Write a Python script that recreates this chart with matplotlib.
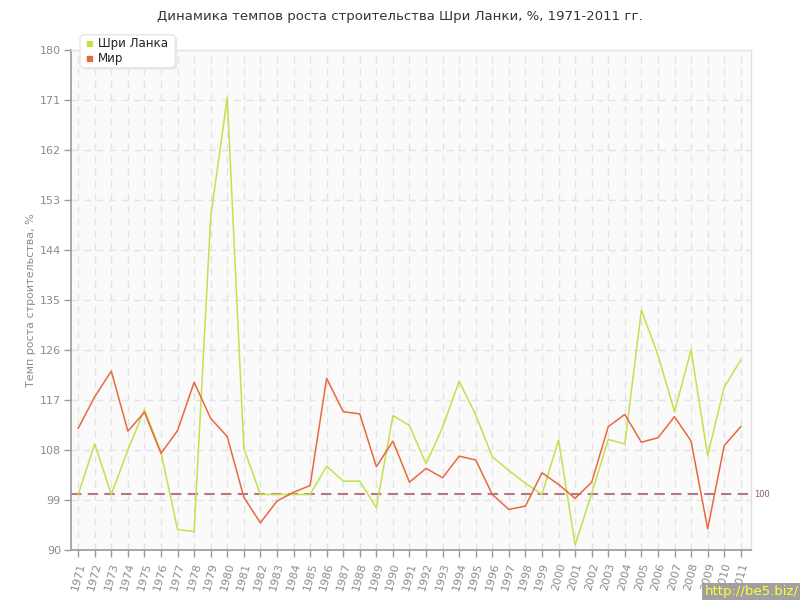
import numpy as np
import matplotlib
matplotlib.use('Agg')
import matplotlib.pyplot as plt
from matplotlib.patches import FancyBboxPatch

# data
years = list(range(1971, 2012))
sri_lanka = [100.0, 109.1, 100.0, 108.0, 115.3, 107.6, 93.7, 93.3, 150.0, 171.4,
             108.3, 100.0, 100.0, 100.0, 100.0, 105.1, 102.4, 102.4, 97.6, 114.2,
             112.4, 105.5, 112.1, 120.4, 114.3, 106.8, 104.3, 102.0, 100.0, 109.8,
             90.9, 100.2, 109.9, 109.1, 133.2, 125.1, 114.9, 126.0, 107.0, 119.3,
             124.2]
world = [111.9, 117.6, 122.2, 111.4, 114.8, 107.4, 111.5, 120.2, 113.7, 110.4,
         99.5, 94.9, 98.8, 100.4, 101.6, 120.9, 114.9, 114.5, 105.0, 109.6,
         102.2, 104.7, 103.0, 106.9, 106.2, 100.0, 97.3, 97.9, 103.9, 101.8,
         99.3, 102.2, 112.2, 114.4, 109.4, 110.2, 114.0, 109.6, 93.8, 108.8,
         112.2]
y_ticks = [90, 99, 108, 117, 126, 135, 144, 153, 162, 171, 180]
ref_level = 100

title = 'Динамика темпов роста строительства Шри Ланки, %, 1971-2011 гг.'
ylabel = 'Темп роста строительства, %'
series_names = ['Шри Ланка', 'Мир']

green = '#c4e04a'
orange = '#e8693d'
axis_grey = '#999999'
text_grey = '#8c8c8c'

plt.rcParams['font.family'] = ['DejaVu Sans']

fig = plt.figure(figsize=(8, 6), dpi=100, facecolor='white')
ax = fig.add_axes([0.0884, 0.0833, 0.85, 0.8334])
ax.set_facecolor('#fafafa')

# grid
for y in y_ticks[1:-1]:
    ax.axhline(y, color='#e3e3e3', lw=1, dashes=(5, 4), zorder=0)
for x in years:
    ax.axvline(x, color='#e3e3e3', lw=1, dashes=(5, 4), zorder=0)

ax.plot(years, sri_lanka, color=green, lw=1.1, zorder=3)
ax.plot(years, world, color=orange, lw=1.1, zorder=3)

# reference line at 100
ax.axhline(ref_level, color='#b87585', lw=1.5, dashes=(5, 3), zorder=2)
ax.text(2011.8, ref_level, str(ref_level), color='#a0506a', fontsize=6,
        va='center', ha='left')

ax.set_xlim(1970.55, 2011.6)
ax.set_ylim(90, 180)
ax.set_yticks(y_ticks)
ax.set_xticks(years)
ax.set_xticklabels([str(y) for y in years], rotation=75, ha='center',
                   fontsize=8, color=text_grey)
ax.set_yticklabels([str(y) for y in y_ticks], fontsize=8, color=text_grey)
ax.tick_params(axis='both', direction='out', length=5, width=1,
               color=axis_grey)
ax.tick_params(axis='y', pad=2)

for side in ['left', 'bottom']:
    ax.spines[side].set_color(axis_grey)
    ax.spines[side].set_linewidth(1.2)
for side in ['top', 'right']:
    ax.spines[side].set_color('#e0e0e0')
    ax.spines[side].set_linewidth(1)

ax.set_ylabel(ylabel, fontsize=8, color=text_grey, labelpad=3)
fig.text(0.5, 0.972, title, ha='center', va='center', fontsize=9.5,
         color='#333333')

# legend box with a faint shadow
shadow = FancyBboxPatch((0.1025, 0.884), 0.119, 0.055,
                        boxstyle='round,pad=0,rounding_size=0.006',
                        transform=fig.transFigure, facecolor='#e8e8e8',
                        edgecolor='none', zorder=4)
box = FancyBboxPatch((0.1, 0.887), 0.119, 0.055,
                     boxstyle='round,pad=0,rounding_size=0.006',
                     transform=fig.transFigure, facecolor='white',
                     edgecolor='#e6e6e6', lw=1, zorder=5)
fig.patches.extend([shadow, box])
for i, (name, col) in enumerate(zip(series_names, [green, orange])):
    yy = 0.927 - i * 0.0245
    fig.text(0.1115, yy, '■', color=col, fontsize=6, va='center',
             ha='center', zorder=6)
    fig.text(0.1225, yy, name, color='#222222', fontsize=8.5, va='center',
             ha='left', zorder=6)

# watermark
fig.text(0.998, 0.003, 'http://be5.biz/', color='#ffff33', fontsize=9.5,
         ha='right', va='bottom',
         bbox=dict(facecolor='#a0a0a0', edgecolor='none', pad=1.5))

fig.savefig('out.png', dpi=100)
